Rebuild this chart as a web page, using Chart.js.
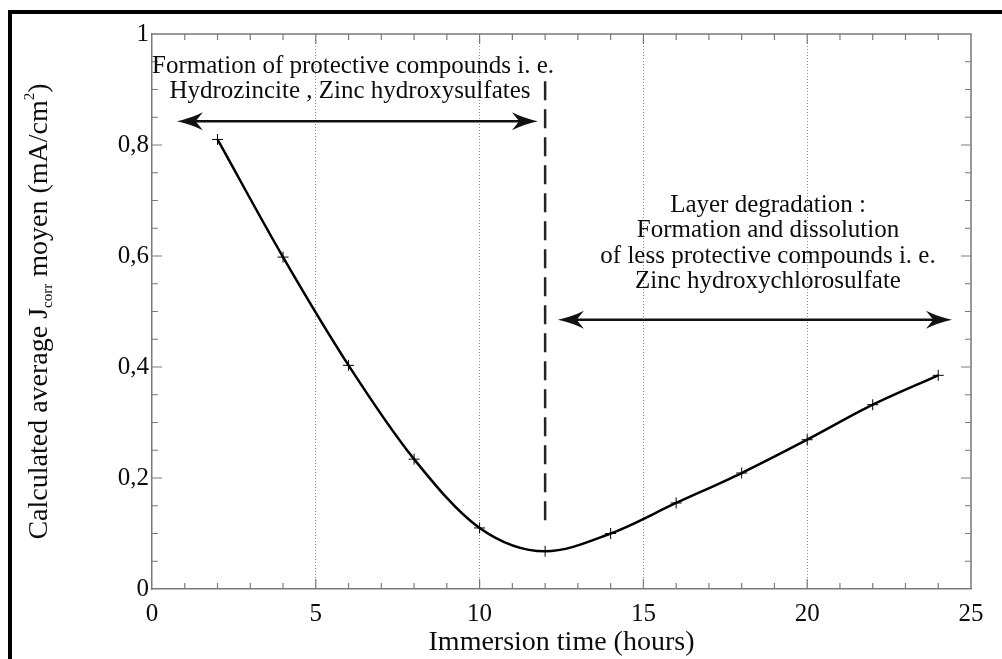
<!DOCTYPE html>
<html><head><meta charset="utf-8">
<script src="https://cdn.jsdelivr.net/npm/chart.js@4/dist/chart.umd.min.js"></script>
<style>html,body{margin:0;padding:0;background:#fff;}#wrap{position:relative;width:1002px;height:659px;}</style>
</head><body><div id="wrap"><canvas id="c" width="1002" height="659"></canvas></div>
<script>
const hours = [2, 4, 6, 8, 10, 12, 14, 16, 18, 20, 22, 24];
const jcorr = [0.810, 0.598, 0.403, 0.234, 0.110, 0.068, 0.100, 0.155, 0.209, 0.269, 0.332, 0.385];
const yTickLabels = ['0', '0,2', '0,4', '0,6', '0,8', '1'];
const leftNote = ['Formation of protective compounds i. e.', 'Hydrozincite , Zinc hydroxysulfates'];
const rightNote = ['Layer degradation :', 'Formation and dissolution', 'of less protective compounds i. e.', 'Zinc hydroxychlorosulfate'];
const boundary = { x: 12, yFrom: 0.118, yTo: 0.915 };
const leftArrow = { from: 0.76, to: 11.78, y: 0.843 };
const rightArrow = { from: 12.39, to: 24.42, y: 0.485 };

const SERIF = '"Liberation Serif", "DejaVu Serif", serif';
const FRAME = '#7a7a7a';
const INK = '#0d0d0d';

function arrowHead(ctx, x, y, dir) {
  const L = 26, W = 9;
  ctx.beginPath();
  ctx.moveTo(x, y);
  ctx.quadraticCurveTo(x - dir * L * 0.55, y - W * 0.35, x - dir * L, y - W);
  ctx.lineTo(x - dir * L * 0.72, y);
  ctx.lineTo(x - dir * L, y + W);
  ctx.quadraticCurveTo(x - dir * L * 0.55, y + W * 0.35, x, y);
  ctx.closePath();
  ctx.fill();
}
function drawArrow(ctx, xs, ys, a) {
  const x1 = xs.getPixelForValue(a.from), x2 = xs.getPixelForValue(a.to), y = ys.getPixelForValue(a.y);
  ctx.save();
  ctx.strokeStyle = '#111'; ctx.fillStyle = '#111'; ctx.lineWidth = 2.5;
  ctx.beginPath(); ctx.moveTo(x1 + 12, y); ctx.lineTo(x2 - 12, y); ctx.stroke();
  arrowHead(ctx, x1, y, -1);
  arrowHead(ctx, x2, y, 1);
  ctx.restore();
}

const decor = {
  id: 'decor',
  beforeDatasetsDraw(chart) {
    const { ctx, chartArea: a, scales: { x: xs, y: ys } } = chart;
    ctx.save();
    ctx.strokeStyle = FRAME; ctx.lineWidth = 1.5;
    ctx.beginPath();
    ctx.moveTo(a.left, a.top); ctx.lineTo(a.right, a.top); ctx.lineTo(a.right, a.bottom);
    ctx.stroke();
    ctx.lineWidth = 1.2;
    ctx.beginPath();
    for (let v = 1; v < 25; v++) {
      const px = xs.getPixelForValue(v);
      const len = v % 5 === 0 ? 10 : 6;
      ctx.moveTo(px, a.bottom); ctx.lineTo(px, a.bottom - len);
      ctx.moveTo(px, a.top); ctx.lineTo(px, a.top + len);
    }
    for (let k = 1; k < 20; k++) {
      const py = ys.getPixelForValue(k * 0.05);
      const len = k % 4 === 0 ? 10 : 6;
      ctx.moveTo(a.left, py); ctx.lineTo(a.left + len, py);
      ctx.moveTo(a.right, py); ctx.lineTo(a.right - len, py);
    }
    ctx.stroke();
    ctx.restore();
  },
  afterDatasetsDraw(chart) {
    const { ctx, scales: { x: xs, y: ys } } = chart;
    ctx.save();
    ctx.strokeStyle = '#222'; ctx.lineWidth = 2.5; ctx.setLineDash([19, 9]);
    const bx = xs.getPixelForValue(boundary.x);
    ctx.beginPath();
    ctx.moveTo(bx, ys.getPixelForValue(boundary.yTo));
    ctx.lineTo(bx, ys.getPixelForValue(boundary.yFrom));
    ctx.stroke();
    ctx.restore();
    drawArrow(ctx, xs, ys, leftArrow);
    drawArrow(ctx, xs, ys, rightArrow);
    ctx.save();
    ctx.fillStyle = INK;
    ctx.font = '25px ' + SERIF;
    ctx.textAlign = 'center'; ctx.textBaseline = 'middle';
    ctx.fillText(leftNote[0], 353, 66);
    ctx.fillText(leftNote[1], 350, 91);
    const ry = [205, 230, 256, 281];
    rightNote.forEach((t, i) => ctx.fillText(t, 768, ry[i]));
    ctx.restore();
  },
  afterDraw(chart) {
    const { ctx, chartArea: a } = chart;
    ctx.save();
    ctx.fillStyle = INK;
    ctx.translate(40, (a.top + a.bottom) / 2);
    ctx.rotate(-Math.PI / 2);
    ctx.textBaseline = 'middle';
    const big = '28px ' + SERIF, small = '15px ' + SERIF;
    const parts = [
      { t: 'Calculated average J', f: big, dy: 0 },
      { t: 'corr', f: small, dy: 8 },
      { t: ' moyen (mA/cm', f: big, dy: 0 },
      { t: '2', f: small, dy: -10 },
      { t: ')', f: big, dy: 0 }
    ];
    let w = 0;
    parts.forEach(p => { ctx.font = p.f; p.w = ctx.measureText(p.t).width; w += p.w; });
    let x = -w / 2;
    ctx.textAlign = 'left';
    parts.forEach(p => { ctx.font = p.f; ctx.fillText(p.t, x, p.dy); x += p.w; });
    ctx.restore();
  }
};

new Chart(document.getElementById('c'), {
  type: 'line',
  data: {
    datasets: [{
      data: hours.map((h, i) => ({ x: h, y: jcorr[i] })),
      borderColor: '#000',
      borderWidth: 2.5,
      cubicInterpolationMode: 'monotone',
      pointStyle: 'cross',
      pointRadius: 5.5,
      pointBorderWidth: 1,
      pointBorderColor: '#000',
      fill: false
    }]
  },
  options: {
    responsive: false,
    devicePixelRatio: 1,
    animation: false,
    layout: { padding: { top: 34, right: 31, left: 0, bottom: 0 } },
    plugins: { legend: { display: false }, tooltip: { enabled: false } },
    scales: {
      x: {
        type: 'linear', min: 0, max: 25,
        ticks: { stepSize: 5, padding: 10, color: INK, font: { family: SERIF, size: 25 } },
        grid: {
          drawTicks: false, lineWidth: 1,
          color: c => (c.tick && (c.tick.value === 0 || c.tick.value === 25)) ? 'rgba(0,0,0,0)' : '#8a8a8a'
        },
        border: { display: true, color: FRAME, width: 1.5, dash: [1, 2] },
        title: { display: true, text: 'Immersion time (hours)', color: INK, font: { family: SERIF, size: 28 }, padding: { top: 0, bottom: 0 } },
        afterFit: s => { s.height = 70; }
      },
      y: {
        min: 0, max: 1,
        ticks: { stepSize: 0.2, padding: 3, color: INK, font: { family: SERIF, size: 25 }, callback: (v, i) => yTickLabels[i] },
        grid: { display: false, drawTicks: false },
        border: { display: true, color: FRAME, width: 1.5 },
        afterFit: s => { s.width = 152; }
      }
    }
  },
  plugins: [decor]
});
</script>
<div style="position:absolute;left:8px;top:10px;width:1100px;height:800px;border:4px solid #000;box-sizing:border-box;pointer-events:none;"></div>
</body></html>
